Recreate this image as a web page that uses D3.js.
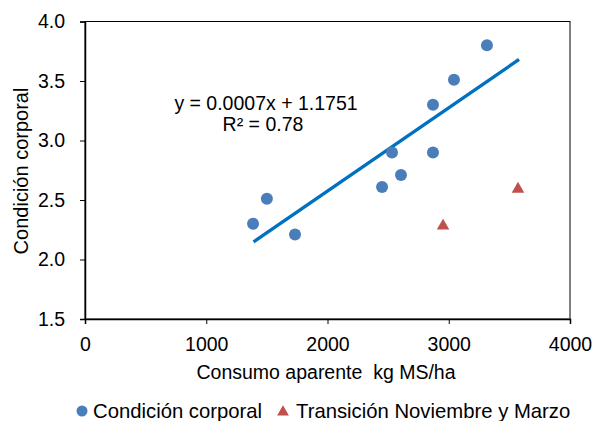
<!DOCTYPE html>
<html>
<head>
<meta charset="utf-8">
<script src="https://cdn.jsdelivr.net/npm/d3@7"></script>
<style>
  body { margin: 0; background: #fff; }
  text { font-family: "Liberation Sans", Arial, sans-serif; fill: #000; }
</style>
</head>
<body>
<div id="chart"></div>
<script>
// Condición corporal series
const ccX = [1386, 1500, 1732, 2450, 2532, 2606, 2870, 2870, 3043, 3315];
const ccY = [2.30, 2.51, 2.21, 2.61, 2.90, 2.71, 2.90, 3.30, 3.51, 3.80];
// Transición Noviembre y Marzo series
const trX = [2953, 3571];
const trY = [2.29, 2.60];
// linear trendline
const slope = 0.0007, intercept = 1.1751;
const trendX = [1390, 3580];
const xTicks = [0, 1000, 2000, 3000, 4000];
const yTicks = [1.5, 2.0, 2.5, 3.0, 3.5, 4.0];

const width = 595, height = 421;
const margin = { top: 21.5, right: 25, bottom: 102, left: 85 };
const fs = '19.5px';

const svg = d3.select('#chart').append('svg')
  .attr('width', width).attr('height', height);

const x = d3.scaleLinear().domain([0, 4000]).range([margin.left, width - margin.right]);
const y = d3.scaleLinear().domain([1.5, 4.0]).range([height - margin.bottom, margin.top]);

// plot frame
svg.append('rect')
  .attr('x', x(0)).attr('y', y(4))
  .attr('width', x(4000) - x(0)).attr('height', y(1.5) - y(4))
  .attr('fill', 'none').attr('stroke', '#000').attr('stroke-width', 1);

// axes
const xAxis = svg.append('g')
  .attr('transform', `translate(0,${y(1.5)})`)
  .call(d3.axisBottom(x).tickValues(xTicks).tickSize(5).tickPadding(13).tickFormat(d3.format('d')));
const yAxis = svg.append('g')
  .attr('transform', `translate(${x(0)},0)`)
  .call(d3.axisLeft(y).tickValues(yTicks).tickSize(5).tickPadding(15).tickFormat(d3.format('.1f')));
[xAxis, yAxis].forEach(g => {
  g.select('.domain').attr('stroke', '#000').attr('stroke-width', 1.5);
  g.selectAll('.tick line').attr('stroke', '#000');
  g.selectAll('text').style('font-size', fs).style('font-family', '"Liberation Sans", Arial, sans-serif');
});

// axis titles
svg.append('text')
  .attr('x', 326).attr('y', 379)
  .attr('text-anchor', 'middle').style('font-size', fs)
  .attr('xml:space', 'preserve')
  .text('Consumo aparente  kg MS/ha');
svg.append('text')
  .attr('transform', `translate(28,171) rotate(-90)`)
  .attr('text-anchor', 'middle').style('font-size', '20px')
  .text('Condición corporal');

// trendline
svg.append('line')
  .attr('x1', x(trendX[0])).attr('y1', y(slope * trendX[0] + intercept))
  .attr('x2', x(trendX[1])).attr('y2', y(slope * trendX[1] + intercept))
  .attr('stroke', '#0070c0').attr('stroke-width', 3.3);

// equation
svg.append('text')
  .attr('x', 266).attr('y', 110)
  .attr('text-anchor', 'middle').style('font-size', fs)
  .text('y = 0.0007x + 1.1751');
svg.append('text')
  .attr('x', 263).attr('y', 131)
  .attr('text-anchor', 'middle').style('font-size', fs)
  .text('R² = 0.78');

// points
const cc = ccX.map((v, i) => ({ x: v, y: ccY[i] }));
const tr = trX.map((v, i) => ({ x: v, y: trY[i] }));

svg.selectAll('.cc').data(cc).enter().append('circle')
  .attr('class', 'cc')
  .attr('cx', d => x(d.x)).attr('cy', d => y(d.y))
  .attr('r', 6).attr('fill', '#4a7ebb');

const tri = d3.symbol().type(d3.symbolTriangle).size(68);
svg.selectAll('.tr').data(tr).enter().append('path')
  .attr('class', 'tr')
  .attr('transform', d => `translate(${x(d.x)},${y(d.y) + 1})`)
  .attr('d', tri).attr('fill', '#c0504d');

// legend
const leg = svg.append('g');
leg.append('circle').attr('cx', 82).attr('cy', 411).attr('r', 5.5).attr('fill', '#4a7ebb');
leg.append('text').attr('x', 93).attr('y', 418).style('font-size', '20.3px').text('Condición corporal');
leg.append('path').attr('transform', 'translate(283,412)')
  .attr('d', d3.symbol().type(d3.symbolTriangle).size(60)).attr('fill', '#c0504d');
leg.append('text').attr('x', 296).attr('y', 418).style('font-size', '20.3px').text('Transición Noviembre y Marzo');
</script>
</body>
</html>
